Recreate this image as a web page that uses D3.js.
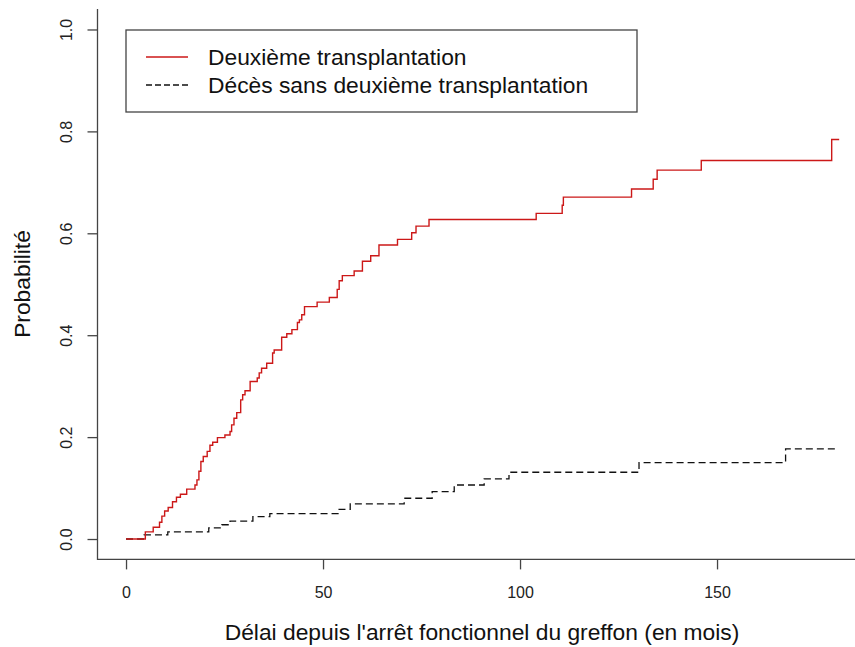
<!DOCTYPE html>
<html>
<head>
<meta charset="utf-8">
<script src="https://cdn.jsdelivr.net/npm/d3@7"></script>
<style>
  body { margin: 0; background: #fff; }
  svg { display: block; font-family: "Liberation Sans", Arial, sans-serif; }
</style>
</head>
<body>
<svg id="chart" width="855" height="647"></svg>
<script>
// Cumulative incidence: step times (months) and levels after each step
const transplantTimes = [0, 4.9, 6.9, 8.5, 9.1, 9.8, 10.7, 11.8, 12.8, 13.8, 15.4, 17.5, 18.0, 18.5, 19.0,
  19.6, 20.6, 21.3, 22.0, 23.2, 25.1, 26.4, 26.8, 27.4, 28.1, 29.1, 29.6, 30.2, 31.5, 33.3, 33.8,
  34.4, 35.7, 37.2, 37.6, 39.5, 40.8, 42.1, 43.5, 44.0, 44.6, 45.3, 48.5, 51.6, 53.6, 54.1, 54.9,
  57.9, 60.0, 62.1, 64.2, 68.9, 72.5, 73.6, 76.9, 104.1, 110.7, 111.0, 128.3, 133.8, 134.8, 146.0,
  179.1, 181.0];
const transplantValues = [0, 0.014, 0.023, 0.033, 0.045, 0.055, 0.062, 0.073, 0.082, 0.088, 0.098, 0.106,
  0.116, 0.133, 0.152, 0.162, 0.172, 0.184, 0.190, 0.199, 0.204, 0.211, 0.224, 0.237, 0.248, 0.273,
  0.283, 0.291, 0.309, 0.316, 0.326, 0.335, 0.345, 0.365, 0.371, 0.396, 0.403, 0.411, 0.425, 0.430,
  0.440, 0.456, 0.465, 0.474, 0.490, 0.507, 0.517, 0.526, 0.545, 0.556, 0.577, 0.588, 0.601, 0.614,
  0.627, 0.639, 0.655, 0.671, 0.687, 0.706, 0.724, 0.743, 0.784, 0.784];

const deathTimes = [0, 4.6, 10.6, 21.0, 24.3, 26.4, 32.2, 36.5, 53.8, 56.9, 70.6, 77.7, 83.3, 90.9,
  97.2, 130.2, 167.4, 180.7];
const deathValues = [0, 0.008, 0.014, 0.022, 0.028, 0.035, 0.044, 0.050, 0.058, 0.069, 0.080, 0.093,
  0.106, 0.118, 0.131, 0.150, 0.177, 0.177];

const xTicks = [0, 50, 100, 150];
const yTicks = [0, 0.2, 0.4, 0.6, 0.8, 1.0];
const legendLabels = ["Deuxième transplantation", "Décès sans deuxième transplantation"];
const xTitle = "Délai depuis l'arrêt fonctionnel du greffon (en mois)";
const yTitle = "Probabilité";

const svg = d3.select("#chart");
svg.append("rect").attr("width", 855).attr("height", 647).attr("fill", "#fff");

// R-style 4% axis extension
const tMax = d3.max(transplantTimes.concat(deathTimes));
const xPad = tMax * 0.04;
const x = d3.scaleLinear().domain([-xPad, tMax + xPad]).range([97.5, 867.7]);
const y = d3.scaleLinear().domain([-0.04, 1.04]).range([559.4, 9.1]);

const axisColor = "#444";
const textColor = "#222";

// L-shaped box
svg.append("path")
  .attr("d", `M${x.range()[0]},${y.range()[1]} V${y.range()[0]} H${x.range()[1]}`)
  .attr("fill", "none")
  .attr("stroke", axisColor)
  .attr("stroke-width", 1.3);

// X axis
const xAxis = svg.append("g")
  .attr("transform", `translate(0,${y.range()[0]})`)
  .call(d3.axisBottom(x).tickValues(xTicks).tickSize(10).tickPadding(17).tickFormat(d3.format("d")));
xAxis.select(".domain").remove();
xAxis.selectAll("line").attr("stroke", axisColor).attr("stroke-width", 1.3);
xAxis.selectAll("text").attr("fill", textColor).style("font-size", "16px");

// Y axis, labels rotated like R
const yAxis = svg.append("g")
  .attr("transform", `translate(${x.range()[0]},0)`)
  .call(d3.axisLeft(y).tickValues(yTicks).tickSize(10).tickFormat(d3.format(".1f")));
yAxis.select(".domain").remove();
yAxis.selectAll("line").attr("stroke", axisColor).attr("stroke-width", 1.3);
yAxis.selectAll("text")
  .attr("x", 0)
  .attr("dy", 0)
  .attr("transform", "translate(-25.5,0) rotate(-90)")
  .attr("text-anchor", "middle")
  .attr("fill", textColor)
  .style("font-size", "16px");

// Titles
svg.append("text")
  .attr("x", 482)
  .attr("y", 640)
  .attr("text-anchor", "middle")
  .attr("fill", "#111")
  .style("font-size", "22.8px")
  .text(xTitle);

svg.append("text")
  .attr("transform", "translate(30,284) rotate(-90)")
  .attr("text-anchor", "middle")
  .attr("fill", "#111")
  .style("font-size", "22.8px")
  .text(yTitle);

// Step curves
const line = d3.line()
  .x(d => x(d[0]))
  .y(d => y(d[1]))
  .curve(d3.curveStepAfter);

svg.append("path")
  .datum(deathTimes.map((t, i) => [t, deathValues[i]]))
  .attr("d", line)
  .attr("fill", "none")
  .attr("stroke", "#111")
  .attr("stroke-width", 1.3)
  .attr("stroke-dasharray", "7,4");

svg.append("path")
  .datum(transplantTimes.map((t, i) => [t, transplantValues[i]]))
  .attr("d", line)
  .attr("fill", "none")
  .attr("stroke", "#cc1818")
  .attr("stroke-width", 1.4);

// Legend
const legend = svg.append("g");
legend.append("rect")
  .attr("x", 126).attr("y", 30)
  .attr("width", 511).attr("height", 82)
  .attr("fill", "#fff")
  .attr("stroke", axisColor)
  .attr("stroke-width", 1.3);

const legendStyles = [
  { color: "#cc1818", dash: null },
  { color: "#111", dash: "6,3" }
];
legendLabels.forEach((label, i) => {
  const ly = 57 + i * 28;
  legend.append("line")
    .attr("x1", 146).attr("x2", 188)
    .attr("y1", ly).attr("y2", ly)
    .attr("stroke", legendStyles[i].color)
    .attr("stroke-width", 1.3)
    .attr("stroke-dasharray", legendStyles[i].dash);
  legend.append("text")
    .attr("x", 208)
    .attr("y", ly + 8)
    .attr("fill", "#111")
    .style("font-size", "22.8px")
    .text(label);
});
</script>
</body>
</html>
